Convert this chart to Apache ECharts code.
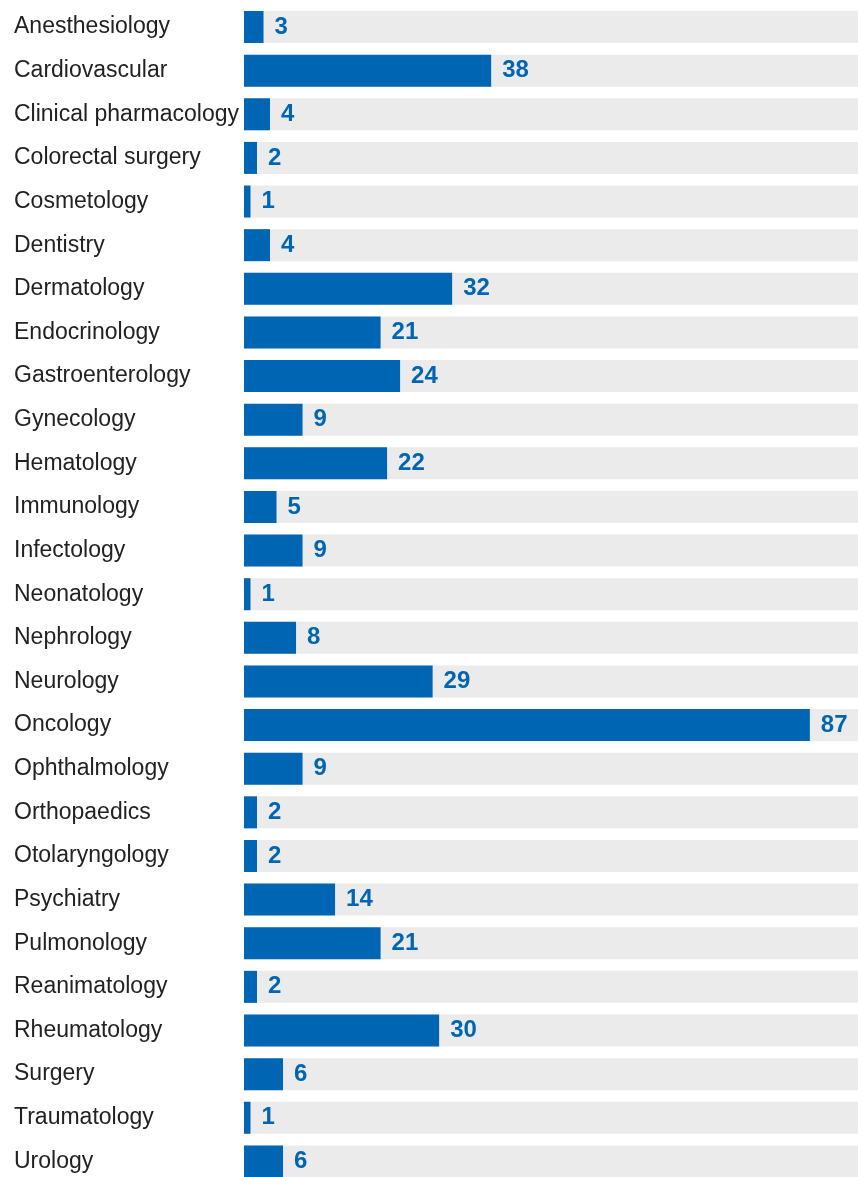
<!DOCTYPE html>
<html><head><meta charset="utf-8">
<script src="https://cdn.jsdelivr.net/npm/echarts@6/dist/echarts.min.js"></script>
<style>html,body{margin:0;padding:0;background:#fff;}#c{width:858px;height:1177px;}</style>
</head><body><div id="c"></div>
<script>
const categories = ["Anesthesiology","Cardiovascular","Clinical pharmacology","Colorectal surgery","Cosmetology","Dentistry","Dermatology","Endocrinology","Gastroenterology","Gynecology","Hematology","Immunology","Infectology","Neonatology","Nephrology","Neurology","Oncology","Ophthalmology","Orthopaedics","Otolaryngology","Psychiatry","Pulmonology","Reanimatology","Rheumatology","Surgery","Traumatology","Urology"];
const values = [3,38,4,2,1,4,32,21,24,9,22,5,9,1,8,29,87,9,2,2,14,21,2,30,6,1,6];
const xMax = 94.4;

const chart = echarts.init(document.getElementById('c'), null, {renderer:'canvas'});
chart.setOption({
  animation:false,
  grid:{left:244, right:0, top:5.2, height:1178, outerBoundsMode:'none', containLabel:false},
  xAxis:{type:'value', min:0, max:xMax, show:false},
  yAxis:{type:'category', data:categories, inverse:true,
    axisLine:{show:false}, axisTick:{show:false},
    axisLabel:{align:'left', margin:230, fontSize:23, color:'#222222', fontFamily:'Liberation Sans, Arial, sans-serif'}},
  series:[{type:'bar', data:values, barWidth:32,
    itemStyle:{color:'#0066b3'},
    showBackground:true, backgroundStyle:{color:'#ebebeb'},
    label:{show:true, position:'right', distance:11, fontSize:24, fontWeight:'bold', color:'#0066b3', fontFamily:'Liberation Sans, Arial, sans-serif'}
  }]
});
</script></body></html>
